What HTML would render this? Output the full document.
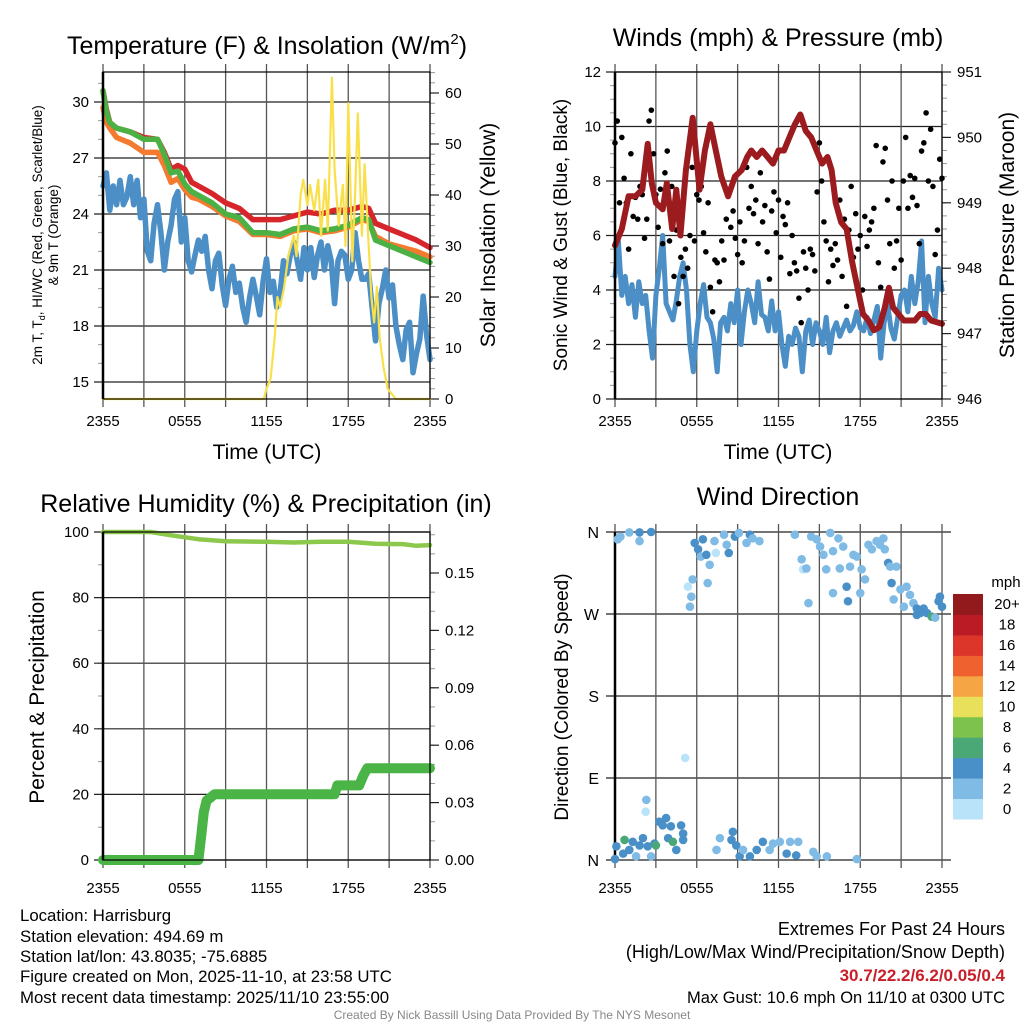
<!DOCTYPE html>
<html><head><meta charset="utf-8">
<style>
html,body{margin:0;padding:0;background:#fff;}
svg{display:block;font-family:"Liberation Sans",sans-serif;}
</style></head>
<body>
<svg id="root" width="1024" height="1024" viewBox="0 0 1024 1024" xmlns="http://www.w3.org/2000/svg">
<rect width="1024" height="1024" fill="#fff"/>
<text x="267" y="54" font-size="25" text-anchor="middle">Temperature (F) &amp; Insolation (W/m<tspan font-size="15" dy="-10">2</tspan><tspan dy="10">)</tspan></text>
<text x="778" y="46" font-size="25" text-anchor="middle">Winds (mph) &amp; Pressure (mb)</text>
<text x="266" y="512" font-size="25" text-anchor="middle">Relative Humidity (%) &amp; Precipitation (in)</text>
<text x="778" y="505" font-size="25" text-anchor="middle">Wind Direction</text>

<text transform="translate(42,235) rotate(-90)" font-size="13.5" text-anchor="middle">2m T, T<tspan font-size="9" dy="3">d</tspan><tspan dy="-3">, HI/WC (Red, Green, Scarlet/Blue)</tspan></text>
<text transform="translate(58,235) rotate(-90)" font-size="13.5" text-anchor="middle">&amp; 9m T (Orange)</text>
<text transform="translate(495,235) rotate(-90)" font-size="21" text-anchor="middle">Solar Insolation (Yellow)</text>
<text transform="translate(567,235) rotate(-90)" font-size="19" text-anchor="middle">Sonic Wind &amp; Gust (Blue, Black)</text>
<text transform="translate(1014,235) rotate(-90)" font-size="21" text-anchor="middle">Station Pressure (Maroon)</text>
<text transform="translate(44,697) rotate(-90)" font-size="21" text-anchor="middle">Percent &amp; Precipitation</text>
<text transform="translate(568,697) rotate(-90)" font-size="19" text-anchor="middle">Direction (Colored By Speed)</text>
<text x="267" y="459" font-size="21" text-anchor="middle">Time (UTC)</text>
<text x="778" y="459" font-size="21" text-anchor="middle">Time (UTC)</text>

<g font-size="16.8">
<text x="20" y="921">Location: Harrisburg</text>
<text x="20" y="942">Station elevation: 494.69 m</text>
<text x="20" y="962">Station lat/lon: 43.8035; -75.6885</text>
<text x="20" y="982">Figure created on Mon, 2025-11-10, at 23:58 UTC</text>
<text x="20" y="1003">Most recent data timestamp: 2025/11/10 23:55:00</text>
</g>
<g text-anchor="end">
<text x="1005" y="935" font-size="18">Extremes For Past 24 Hours</text>
<text x="1005" y="958" font-size="18">(High/Low/Max Wind/Precipitation/Snow Depth)</text>
<text x="1005" y="981" font-size="17" fill="#c8202a" font-weight="bold">30.7/22.2/6.2/0.05/0.4</text>
<text x="1005" y="1003" font-size="16.5">Max Gust: 10.6 mph On 11/10 at 0300 UTC</text>
</g>
<text x="512" y="1019" font-size="12" fill="#888" text-anchor="middle">Created By Nick Bassill Using Data Provided By The NYS Mesonet</text>
</svg>
<script>
// ---- data ----
const timeLabels = ["2355","0555","1155","1755","2355"];
const tempTicks = [15,18,21,24,27,30];
const solarTicks = [0,10,20,30,40,50,60];
const windTicks = [0,2,4,6,8,10,12];
const presTicks = [946,947,948,949,950,951];
const rhTicks = [0,20,40,60,80,100];
const precipTicks = ["0.00","0.03","0.06","0.09","0.12","0.15"];
const dirLabels = ["N","E","S","W","N"];

const tempHours = [0,0.25,0.5,1,2,3,4,4.5,5,5.5,6,6.5,7,8,9,10,11,12,13,14,15,16,17,18,19,19.5,20,21,22,23,24];
const redTemp =   [30.6,29.6,28.9,28.6,28.4,28.1,28.0,27.3,26.4,26.6,26.4,25.7,25.5,25.1,24.6,24.3,23.7,23.7,23.7,23.9,24.1,24.0,24.2,24.2,24.4,24.3,23.5,23.2,22.9,22.6,22.2];
const greenTemp = [30.6,29.5,28.9,28.6,28.4,28.0,28.0,27.2,26.2,26.3,25.6,25.2,25.0,24.6,24.0,23.8,23.0,23.0,22.9,23.2,23.3,23.1,23.2,23.4,23.8,23.7,22.6,22.3,22.0,21.7,21.4];
const orangeTemp= [29.7,28.9,28.6,28.1,27.8,27.3,27.3,26.6,25.7,25.9,25.3,24.9,24.8,24.4,23.9,23.6,22.9,22.9,22.8,23.1,23.2,23.0,23.1,23.3,23.7,23.6,22.8,22.4,22.2,22.0,21.7];
const dewPoint = [25.5,26.2,24.2,25.5,24.5,25.8,24.5,24.9,26.0,24.5,25.8,23.8,24.8,22.0,21.5,23.5,24.5,23.0,21.0,22.5,23.4,24.8,25.2,22.5,23.8,21.5,20.9,21.8,22.6,22.0,22.8,21.0,20.0,21.5,21.9,20.2,19.1,20.5,21.2,19.8,20.3,19.0,18.2,19.5,20.5,19.6,18.6,20.4,21.6,19.8,20.4,19.0,19.8,21.5,20.8,21.8,22.5,21.5,20.5,22.2,21.0,22.2,20.6,21.8,22.5,21.0,22.3,21.5,19.2,21.5,22.0,21.8,20.5,21.0,23.0,21.5,20.5,20.5,20.8,19.0,17.2,19.2,20.0,21.0,19.5,20.2,18.0,17.0,16.2,17.8,18.2,15.5,16.5,17.3,19.6,17.5,16.2];
const solarHours = [0,11.8,12,12.3,12.6,12.8,13,13.3,13.6,14,14.2,14.5,14.7,15,15.2,15.5,15.8,16,16.3,16.5,16.8,17,17.3,17.6,17.8,18,18.3,18.5,18.7,19,19.2,19.5,19.7,19.9,20.1,20.3,20.6,20.9,21.2,21.5,24];
const solarVals =  [0,0,2,4,12,20,18,22,28,32,28,40,43,38,42,37,43,32,43,33,63,45,34,42,30,58,27,40,56,32,46,30,20,15,22,12,6,2,1,0,0];

const sonicWind = [4.5,5.8,3.8,4.5,3.5,4.2,3.0,4.3,3.5,3.8,2.5,1.5,3.8,4.8,6.0,3.5,3.2,2.9,3.6,4.5,5.0,4.0,2.0,1.0,2.5,3.5,4.2,3.0,2.8,2.2,1.0,2.8,3.0,2.5,3.5,2.8,4.0,2.0,3.2,4.0,3.5,2.8,4.3,3.1,3.0,2.5,3.6,2.5,3.2,2.0,1.2,2.3,2.0,2.6,2.3,1.0,2.5,2.9,2.0,2.8,2.5,2.0,3.0,1.7,2.5,2.8,2.3,2.6,2.9,2.5,2.7,3.2,2.6,2.5,3.0,2.4,2.9,3.4,1.5,2.8,3.5,2.6,2.2,3.0,3.8,4.0,3.2,4.5,3.5,4.3,5.8,2.8,4.5,3.5,3.0,4.8,4.0];
const gusts = [9.4,10.2,7.2,9.6,8.1,7.2, 5.5,9.0,6.7,7.4,6.6,7.8, 7.5,5.9,6.6,10.2,10.6,9.0, 7.5,6.3,7.7,5.7,8.3,9.1, 5.8,7.8,4.5,6.2,3.5,5.2, 4.5,5.5,4.8,6.0,8.5,5.8, 7.5,7.3,7.8,6.1,5.4,7.2, 4.1,3.2,5.1,5.0,4.3,5.8, 5.1,6.6,7.6,6.3,6.9,5.9, 5.3,6.5,5.0,5.8,8.5,7.0, 7.8,6.8,7.3,5.7,8.3,6.5, 7.1,5.4,4.4,6.9,7.6,6.1, 7.3,5.2,6.7,6.4,7.2,4.6, 6.0,5.0,4.7,3.7,2.8,5.4, 4.8,4.0,5.5,5.3,4.7,7.6, 9.4,8.0,6.5,5.8,4.3,5.5, 4.9,5.7,5.1,7.3,4.5,6.6, 3.4,6.2,7.8,5.2,6.8,5.5, 6.0,4.0,6.7,5.6,6.2,6.5, 7.0,9.3,5.0,4.1,8.7,9.2, 7.3,5.7,8.0,4.8,5.8,7.0, 5.1,8.0,9.6,7.0,8.2,7.4, 8.1,7.1,5.7,9.1,9.4,10.5, 8.0,9.9,7.8,5.3,6.2,8.8, 8.1];
const presHours = [0,0.5,1,1.5,2,2.4,2.7,3,3.5,3.8,4.2,4.5,4.8,5.2,5.7,6.2,6.6,7.0,7.4,7.8,8.3,8.8,9.3,9.7,10.0,10.4,10.8,11.2,11.6,12.0,12.4,12.8,13.2,13.6,14.0,14.4,14.8,15.2,15.6,15.9,16.2,16.6,17.0,17.4,17.8,18.2,18.6,19.0,19.4,19.8,20.1,20.4,20.8,21.2,21.6,22.0,22.4,22.8,23.2,24];
const pressure = [948.35,948.6,949.1,949.1,949.2,949.9,949.3,949.0,948.9,949.3,948.6,949.2,948.5,949.5,950.3,949.2,949.8,950.2,949.8,949.4,949.1,949.4,949.5,949.7,949.8,949.7,949.8,949.7,949.6,949.8,949.8,950.0,950.2,950.35,950.1,950.0,949.8,949.6,949.7,949.5,949.0,948.7,948.6,948.1,947.7,947.3,947.2,947.05,947.1,947.4,947.7,947.4,947.3,947.2,947.2,947.2,947.3,947.3,947.2,947.15];

const rhHours = [0,3.5,5,7,9,12,14,16,18,19,20,22,23,24];
const rh =      [100,100,99,97.8,97.2,97,96.8,97,97,96.7,96.4,96.3,95.8,96];
const precipHours = [0,7.0,7.2,7.4,7.6,8.2,17.0,17.2,18.8,19.1,19.4,24];
const precip =      [0,0,0.012,0.025,0.031,0.0344,0.0344,0.039,0.039,0.044,0.048,0.048];

const dirHours = [0.2,0.4,1.05,1.8,1.8,2.65, 0,0.1,0.7,0.6,1.05,1.3,1.55,1.8,2.05,2.3,2.25,2.4,2.65,2.9,3.0,3.25,3.5,3.75,3.9,4.1,4.25,4.5,4.85,5.0,5.0,5.15,
 5.35,5.5,5.6,5.7,5.85,6.1,6.45,6.3,6.7,6.95,6.8,7.3,7.4,8.0,8.2,8.35,8.8,9.1,9.65,9.9,10.1,10.6,
 7.45,7.7,8.55,8.65,8.9,9.15,9.4,9.9,10.4,10.85,11.35,11.6,12.1,12.6,12.85,13.3,13.45,14.55,14.8,15.55,17.75,
 13.2,13.7,13.8,14.05,14.2,14.4,14.8,15.05,15.3,15.5,15.8,16.0,16.0,16.4,16.5,16.75,17.0,17.1,17.25,17.5,17.75,18.0,18.1,18.35,18.6,18.85,19.2,19.45,19.7,19.8,20.05,20.2,20.3,20.45,20.65,20.95,21.2,21.4,21.65,21.9,22.15,22.4,22.65,22.9,23.25,23.5,23.75,23.85,24,22.15];
const dirDeg = [352,355,359.5,359.5,350,360, 1,15,22,7,11,20,4,16,24,66,53,15,4,18,16,42,38,46,24,37,20,11,38,22,29,112,
 300,278,289,308,348,341,352,333,335,324,304,350,337,357,346,337,355,359,348,357,353,350,
 11,24,22,31,16,4,11,4,11,20,11,18,20,7,20,5,20,9,4,4,1,
 357,330,319,320,282,355,352,344,335,319,359,339,293,353,320,344,300,284,322,335,333,293,319,308,346,341,350,346,353,341,326,322,304,286,322,297,278,300,291,282,276,271,276,271,267,266,284,289,278,269];
const dirSpeed = [2,2,2,4,2,4, 4,4,6,4,4,4,2,4,4,2,0,4,2,4,6,4,4,4,4,4,6,4,4,4,4,0,
 0,2,2,2,4,4,4,2,4,2,2,2,0,2,2,4,4,2,2,4,2,2,
 2,2,4,4,4,4,2,4,4,4,2,2,2,4,2,4,2,2,2,2,2,
 2,2,0,2,2,2,2,2,2,2,2,2,2,2,2,2,4,4,2,2,2,2,2,2,2,2,2,2,2,2,4,2,4,2,2,2,2,2,2,2,4,4,4,4,6,2,4,4,4,4];
const cbLabels = ["0","2","4","6","8","10","12","14","16","18","20+"];
const cbColors = ["#b9e3f8","#7fbbe5","#4a90c8","#4aa877","#7dc24c","#e8e05a","#f6a544","#ef6230","#dc3529","#bb1b24","#921a1d"];

// ---- drawing ----
const NS="http://www.w3.org/2000/svg";
const root=document.getElementById('root');
function el(tag,attrs,parent){const e=document.createElementNS(NS,tag);for(const k in attrs)e.setAttribute(k,attrs[k]);(parent||root).appendChild(e);return e;}
function lin(d0,d1,r0,r1){return v=>r0+(v-d0)*(r1-r0)/(d1-d0);}

function panel(name,x0,x1,y0,y1){
  const g=el('g',{});
  
  
  return {g,x0,x1,y0,y1,xs:lin(0,24,x0,x1)};
}
function timeAxis(P,labY){
  for(let h=0;h<=24;h+=3){
    const x=P.xs(h);
    const l=el('line',{x1:x,x2:x,y1:P.y0-8,y2:P.y1+8,stroke:'#555','stroke-width':1.3},P.g);
    
    
  }
  timeLabels.forEach((s,i)=>{
    const t=el('text',{x:P.xs(i*6),y:labY,'font-size':15,'text-anchor':'middle'},P.g);t.textContent=s;
    
    
  });
}
function leftAxis(P,ys,ticks,minorStep,lo,hi,labels,grid){
  for(let v=lo;v<=hi+1e-9;v+=minorStep){const y=ys(v);if(y<P.y0-0.5||y>P.y1+0.5)continue;
    const m=el('line',{x1:P.x0-5,x2:P.x0,y1:y,y2:y,stroke:'#999','stroke-width':1},P.g);
    
    }
  ticks.forEach((v,i)=>{const y=ys(v);
    if(grid){const l=el('line',{x1:P.x0-9,x2:P.x1,y1:y,y2:y,stroke:'#222','stroke-width':1.2},P.g);
      
      }
    const t=el('text',{x:P.x0-14,y:y+5,'font-size':15,'text-anchor':'end'},P.g);t.textContent=labels?labels[i]:v;
    
    });
}
function rightAxis(P,ys,ticks,minorStep,lo,hi,labels){
  for(let v=lo;v<=hi+1e-9;v+=minorStep){const y=ys(v);if(y<P.y0-0.5||y>P.y1+0.5)continue;
    const m=el('line',{x1:P.x1,x2:P.x1+5,y1:y,y2:y,stroke:'#999','stroke-width':1},P.g);
    
    }
  ticks.forEach((v,i)=>{const y=ys(typeof v==='string'?parseFloat(v):v);
    const l=el('line',{x1:P.x1,x2:P.x1+9,y1:y,y2:y,stroke:'#222','stroke-width':1.2},P.g);
    
    
    const t=el('text',{x:P.x1+15,y:y+5,'font-size':15},P.g);t.textContent=labels?labels[i]:v;
    
    });
}
function frame(P){
  const r=el('rect',{x:P.x0,y:P.y0,width:P.x1-P.x0,height:P.y1-P.y0,fill:'none',stroke:'#000','stroke-width':1.2},P.g);
  
  
  const l=el('line',{x1:P.x0,x2:P.x0,y1:P.y0,y2:P.y1,stroke:'#000','stroke-width':2.5},P.g);
  
  
}
function path(P,xsArr,vals,ys,color,w,name){
  const d=vals.map((v,i)=>(i?'L':'M')+P.xs(xsArr(i)).toFixed(1)+','+ys(v).toFixed(1)).join(' ');
  const p=el('path',{d,fill:'none',stroke:color,'stroke-width':w,'stroke-linejoin':'round','stroke-linecap':'round'},P.g);
  
  
  return p;
}
const even=n=>i=>i*24/(n-1);

// Panel 1
{
  const P=panel('temperature-panel',103,430,72,399);
  const ys=lin(15,30,382,102), ysr=lin(0,60,399,93);
  leftAxis(P,ys,tempTicks,1,14,31,null,true);
  rightAxis(P,ysr,solarTicks,2,0,64,null);
  timeAxis(P,426);
  path(P,even(dewPoint.length),dewPoint,ys,'#4b8fc6',5.5,'dewpoint-line');
  path(P,i=>tempHours[i],orangeTemp,ys,'#f47a30',5.5,'9m-temp-line');
  path(P,i=>tempHours[i],redTemp,ys,'#d7262b',5.5,'heat-index-line');
  path(P,i=>tempHours[i],greenTemp,ys,'#4cb144',5.5,'2m-temp-line');
  path(P,i=>solarHours[i],solarVals,ysr,'#f9e04b',2.2,'insolation-line');
  frame(P);
}
// Panel 2
{
  const P=panel('winds-panel',615,942,72,399);
  const ys=lin(0,12,399,72), ysr=lin(946,951,399,72);
  leftAxis(P,ys,windTicks,0.5,0,12,null,true);
  rightAxis(P,ysr,presTicks,0.2,946,951,null);
  timeAxis(P,426);
  path(P,even(sonicWind.length),sonicWind,ys,'#4b8fc6',5,'sonic-wind-line');
  gusts.forEach((v,i)=>{
    const c=el('circle',{cx:P.xs(i*24/(gusts.length-1)),cy:ys(v),r:2.8,fill:'#000'},P.g);
    
    
  });
  path(P,i=>presHours[i],pressure,ysr,'#9b1b1e',6,'pressure-line');
  frame(P);
}
// Panel 3
{
  const P=panel('humidity-panel',103,430,532,860);
  const ys=lin(0,100,860,532), ysr=lin(0,0.15,860,573);
  leftAxis(P,ys,rhTicks,10,0,100,null,true);
  rightAxis(P,ysr,precipTicks,0.01,0,0.17,precipTicks);
  timeAxis(P,893);
  path(P,i=>rhHours[i],rh,ys,'#8cc84b',4.5,'humidity-line');
  path(P,i=>precipHours[i],precip,ysr,'#4bb447',10,'precipitation-line');
  frame(P);
}
// Panel 4
{
  const P=panel('wind-direction-panel',615,942,532,860);
  const ys=lin(0,360,860,532);
  dirLabels.forEach((s,i)=>{const y=ys(i*90);
    const l=el('line',{x1:P.x0-9,x2:P.x1+9,y1:y,y2:y,stroke:'#222','stroke-width':1.2},P.g);
    
    
    const t=el('text',{x:P.x0-16,y:y+6,'font-size':16,'text-anchor':'end'},P.g);t.textContent=s;
    
    });
  timeAxis(P,893);
  const l=el('line',{x1:P.x0,x2:P.x0,y1:P.y0,y2:P.y1,stroke:'#000','stroke-width':2.5},P.g);
  
  
  dirDeg.forEach((d,i)=>{
    const c=el('circle',{cx:P.xs(dirHours[i]),cy:ys(d),r:4.3,fill:cbColors[Math.min(10,Math.floor(dirSpeed[i]/2))]},P.g);
    
    
  });
  const cb=el('g',{});
  
  
  const t0=el('text',{x:1006,y:587,'font-size':15,'text-anchor':'middle'},cb);t0.textContent='mph';
  
  
  const top=594,h=(819-594)/11;
  cbLabels.forEach((s,i)=>{const y=top+(10-i)*h;
    const r=el('rect',{x:953,y:y,width:30,height:h+0.5,fill:cbColors[i]},cb);
    
    
    const t=el('text',{x:1007,y:y+h/2+5,'font-size':15,'text-anchor':'middle'},cb);t.textContent=s;
    
    });
}
</script>
</body></html>
